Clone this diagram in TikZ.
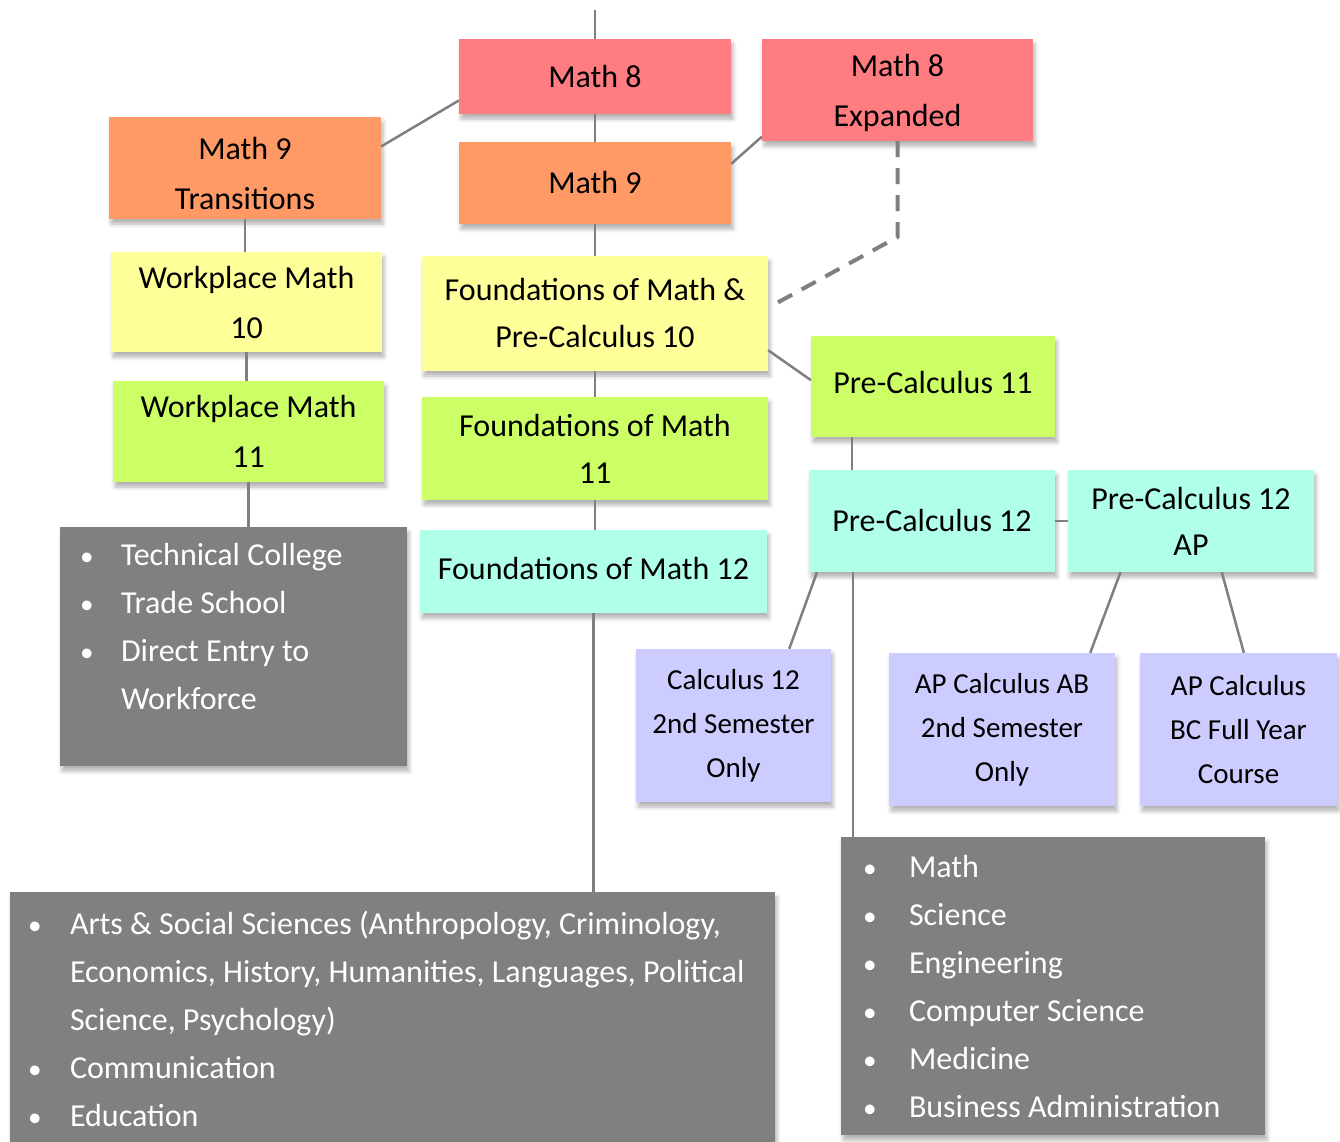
\documentclass[tikz,border=0pt]{standalone}
\usepackage{fontspec}
\setmainfont{Carlito}
\usetikzlibrary{calc,shadows.blur}
\definecolor{redbox}{HTML}{FF7C80}
\definecolor{orangebox}{HTML}{FF9966}
\definecolor{yellowbox}{HTML}{FFFF99}
\definecolor{limebox}{HTML}{CCFF66}
\definecolor{aquabox}{HTML}{B0FFE8}
\definecolor{lilacbox}{HTML}{CCCCFF}
\definecolor{graybox}{HTML}{808080}
\definecolor{linkgray}{HTML}{7F7F7F}
\newcommand{\bitem}[2]{\makebox[#1][l]{\scalebox{0.85}{\textbullet}}#2}
\newcommand{\nudge}[2]{\raisebox{#1}[\height][\depth]{#2}}
\begin{document}
\begin{tikzpicture}[x=1pt,y=-1pt,
  box/.style={inner sep=0pt, align=center, font=\fontsize{32}{50}\selectfont,
    blur shadow={shadow xshift=2pt, shadow yshift=-5pt, shadow blur radius=4pt, shadow opacity=30}},
  small/.style={box, font=\fontsize{29}{44}\selectfont},
  listbox/.style={box, fill=graybox, text=white, align=left, font=\fontsize{32}{48}\selectfont},
  link/.style={draw=linkgray, line width=2.5pt},
  dashlink/.style={draw=linkgray, line width=4pt, dash pattern=on 16pt off 11pt}]
\useasboundingbox (0,0) rectangle (1340,1142);

% grade 8 and 9
\node[box, fill=redbox, minimum width=272pt, minimum height=75pt] (math8) at (595,76.5) {Math 8};
\node[box, fill=redbox, minimum width=271pt, minimum height=102pt] (math8x) at (897.5,90) {\nudge{-2pt}{\begin{tabular}{@{}c@{}}Math 8\\Expanded\end{tabular}}};
\node[box, fill=orangebox, minimum width=272pt, minimum height=102pt] (math9t) at (245,168) {\nudge{-7pt}{\begin{tabular}{@{}c@{}}Math 9\\Transitions\end{tabular}}};
\node[box, fill=orangebox, minimum width=272pt, minimum height=82pt] (math9) at (595,183) {Math 9};

% grade 10 and 11
\node[box, fill=yellowbox, minimum width=271pt, minimum height=100pt] (wm10) at (246.5,302) {Workplace Math\\10};
\node[box, fill=yellowbox, minimum width=346pt, minimum height=115pt, font=\fontsize{32}{47}\selectfont] (fpc10) at (595,313.5) {Foundations of Math \&\\Pre-Calculus 10};
\node[box, fill=limebox, minimum width=244pt, minimum height=101pt] (pc11) at (933,386.5) {\nudge{4pt}{Pre-Calculus 11}};
\node[box, fill=limebox, minimum width=271pt, minimum height=101pt] (wm11) at (248.5,431.5) {Workplace Math\\11};
\node[box, fill=limebox, minimum width=346pt, minimum height=103pt, font=\fontsize{32}{47}\selectfont] (fm11) at (595,448.5) {Foundations of Math\\11};

% grade 12
\node[box, fill=aquabox, minimum width=246pt, minimum height=102pt] (pc12) at (932,521) {Pre-Calculus 12};
\node[box, fill=aquabox, minimum width=246pt, minimum height=102pt, font=\fontsize{32}{46}\selectfont] (pc12ap) at (1191,521) {Pre-Calculus 12\\AP};
\node[box, fill=aquabox, minimum width=347pt, minimum height=83pt] (fm12) at (593.5,571.5) {\nudge{3pt}{Foundations of Math 12}};
\node[small, fill=lilacbox, minimum width=195pt, minimum height=153pt] (calc12) at (733.5,725.5) {Calculus 12\\2nd Semester\\Only};
\node[small, fill=lilacbox, minimum width=226pt, minimum height=153pt] (apab) at (1002,729.5) {AP Calculus AB\\2nd Semester\\Only};
\node[small, fill=lilacbox, minimum width=197pt, minimum height=153pt] (apbc) at (1238.5,729.5) {AP Calculus\\BC Full Year\\Course};

% pathways
\node[listbox] (trade) at (233.5,646.5) {\parbox[c][239pt][t]{347pt}{\vspace*{5pt}\leftskip=20pt
  \strut\bitem{41pt}{Technical College}\\
  \bitem{41pt}{Trade School}\\
  \bitem{41pt}{Direct Entry to}\\
  \hspace*{41pt}Workforce}};
\node[listbox] (arts) at (392.5,1026) {\parbox[c][268pt][t]{765pt}{\vspace*{9pt}\leftskip=18pt
  \strut\bitem{42pt}{Arts \& Social Sciences (Anthropology, Criminology,}\\
  \hspace*{42pt}Economics, History, Humanities, Languages, Political\\
  \hspace*{42pt}Science, Psychology)\\
  \bitem{42pt}{Communication}\\
  \bitem{42pt}{Education}}};
\node[listbox] (stem) at (1053,986) {\parbox[c][298pt][t]{424pt}{\vspace*{7pt}\leftskip=22pt
  \strut\bitem{46pt}{Math}\\
  \bitem{46pt}{Science}\\
  \bitem{46pt}{Engineering}\\
  \bitem{46pt}{Computer Science}\\
  \bitem{46pt}{Medicine}\\
  \bitem{46pt}{Business Administration}}};

% connectors
\coordinate (top) at (595,10);
\coordinate (bend) at (897.5,237);
\draw[link] (top) -- (math8.north);
\draw[link] (math8.south) -- (math9.north);
\draw[link] (math8.190.6) -- (math9t.9.2);
\draw[link] (math8x.199.1) -- (math9.8.8);
\draw[link] (math9.south) -- (fpc10.north);
\draw[dashlink] (math8x.south) -- (bend) -- ([xshift=6pt]fpc10.3.5);
\draw[link] (math9t.south) -- (math9t.south |- wm10.north);
\draw[link] (wm10.south) -- (wm10.south |- wm11.north);
\draw[link] (wm11.south) -- (wm11.south |- trade.north);
\draw[link] (fpc10.south) -- (fm11.north);
\draw[link] (fpc10.348.1) -- (pc11.177);
\draw[link] (fm11.south) -- (fm11.south |- fm12.north);
\draw[link] (fm12.south) -- (fm12.south |- arts.north);
\draw[link] ($(pc11.south west)+(41,0)$) coordinate (a) -- (a |- pc12.north);
\draw[link] (pc12.east) -- (pc12ap.west);
\draw[link] (pc12.204.9) -- (calc12.54);
\draw[link] ($(pc12.south west)+(44,0)$) coordinate (b) -- (b |- stem.north);
\draw[link] (pc12ap.216.9) -- (apab.41.4);
\draw[link] (pc12ap.301.3) -- (apbc.86.7);
\end{tikzpicture}
\end{document}
